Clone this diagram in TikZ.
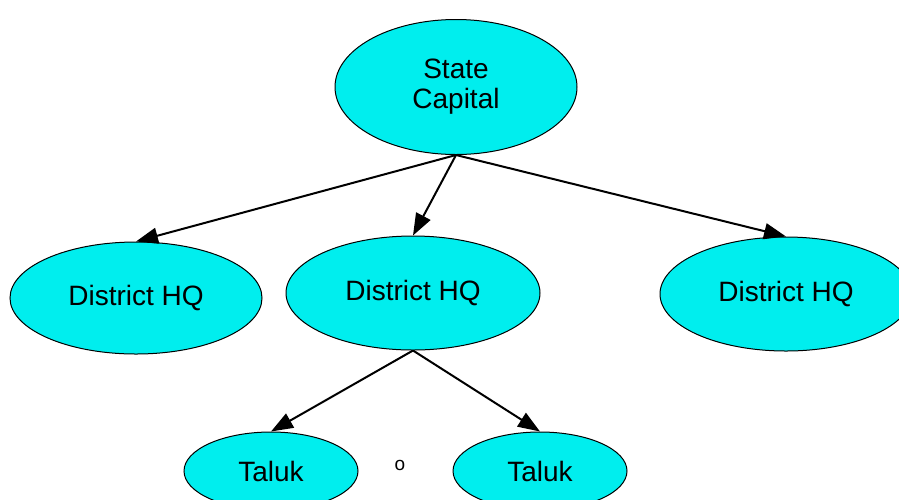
\documentclass[tikz,border=0pt]{standalone}
\usepackage{fontspec}
\setmainfont{Liberation Sans}
\usetikzlibrary{shapes.geometric,arrows.meta}
\definecolor{placefill}{RGB}{0,238,238}
\begin{document}
\begin{tikzpicture}[x=1pt,y=-1pt,
  place/.style={ellipse,draw=black,line width=1pt,fill=placefill,inner sep=0pt,
    font=\fontsize{28}{30}\selectfont,align=center},
  link/.style={line width=2pt,-{Triangle[length=22pt,width=16pt]}}]
\useasboundingbox (0,0) rectangle (899,499);
\node[place,minimum width=242pt,minimum height=135pt] (sc) at (456,87) {State\\Capital};
\node[place,minimum width=252pt,minimum height=112pt] (dl) at (136,298) {District HQ};
\node[place,minimum width=254pt,minimum height=114pt] (dm) at (413,293) {District HQ};
\node[place,minimum width=252pt,minimum height=114pt] (dr) at (786,294) {District HQ};
\node[place,minimum width=174pt,minimum height=78pt] (tl) at (271,471) {Taluk};
\node[place,minimum width=174pt,minimum height=78pt] (tr) at (540,471) {Taluk};
\node[font=\fontsize{19}{20}\selectfont,inner sep=0pt] (dot) at (400,465) {o};
\draw[link] (sc.south) -- (dl.north);
\draw[link] (sc.south) -- (dm.north);
\draw[link] (sc.south) -- (dr.north);
\draw[link] (dm.south) -- (tl.north);
\draw[link] (dm.south) -- (tr.north);
\end{tikzpicture}
\end{document}
